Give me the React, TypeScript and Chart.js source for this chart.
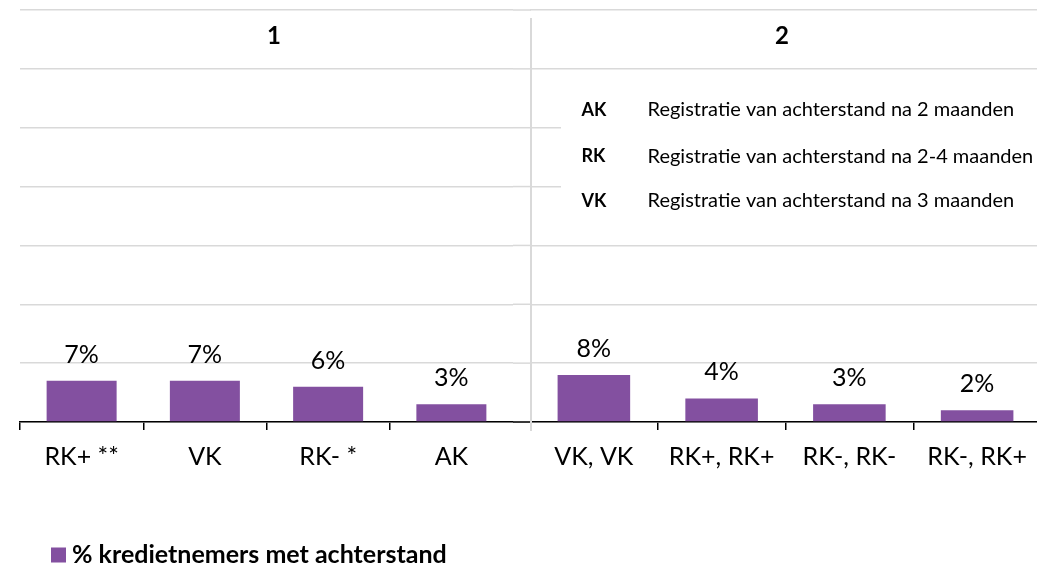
import React, { useEffect, useRef } from 'react';
import { Chart, registerables } from 'chart.js';

Chart.register(...registerables);

// ---- data ----
const groupTitles = ['1', '2'];
const leftCategories = ['RK+ **', 'VK', 'RK- *', 'AK'];
const leftValues = [7, 7, 6, 3];
const rightCategories = ['VK, VK', 'RK+, RK+', 'RK-, RK-', 'RK-, RK+'];
const rightValues = [8, 4, 3, 2];
const seriesLabel = '% kredietnemers met achterstand';
const defAbbr = ['AK', 'RK', 'VK'];
const defText = [
  'Registratie van achterstand na 2 maanden',
  'Registratie van achterstand na 2-4 maanden',
  'Registratie van achterstand na 3 maanden',
];
const yMin = 0;
const yMax = 70;
const yStep = 10;

// ---- style ----
const FONT = 'Lato, "Open Sans", sans-serif';
const BAR = '#8350A0';
const GRID = '#d9d9d9';
const TEXT = '#000000';
const H = 565;
const AXIS_H = 143;

const valueLabels = {
  id: 'valueLabels',
  afterDatasetsDraw(chart: any) {
    const ctx = chart.ctx;
    const ds = chart.data.datasets[0];
    const meta = chart.getDatasetMeta(0);
    ctx.save();
    ctx.font = `25px ${FONT}`;
    ctx.fillStyle = TEXT;
    ctx.textAlign = 'center';
    ctx.textBaseline = 'alphabetic';
    meta.data.forEach((bar: any, i: number) => {
      ctx.fillText(`${ds.data[i]}%`, bar.x, bar.y - 18);
    });
    ctx.restore();
  },
};

const groupTitle = {
  id: 'groupTitle',
  afterDraw(chart: any, _args: any, opts: any) {
    if (!opts || !opts.text) return;
    const ctx = chart.ctx;
    ctx.save();
    ctx.font = `bold 24px ${FONT}`;
    ctx.fillStyle = TEXT;
    ctx.textAlign = 'center';
    ctx.textBaseline = 'middle';
    ctx.fillText(opts.text, opts.x, opts.y);
    ctx.restore();
  },
};

// left chart: extend grid + axis across the gap to the separator, draw series legend
const leftExtras = {
  id: 'leftExtras',
  beforeDatasetsDraw(chart: any) {
    const ctx = chart.ctx;
    const ys = chart.scales.y;
    const area = chart.chartArea;
    ctx.save();
    ctx.strokeStyle = GRID;
    ctx.lineWidth = 1.5;
    ys.ticks.forEach((t: any) => {
      const y = ys.getPixelForValue(t.value);
      ctx.beginPath();
      ctx.moveTo(area.right, y);
      ctx.lineTo(chart.width, y);
      ctx.stroke();
    });
    ctx.strokeStyle = '#000';
    ctx.beginPath();
    ctx.moveTo(area.right, area.bottom);
    ctx.lineTo(chart.width, area.bottom);
    ctx.stroke();
    ctx.restore();
  },
  afterDraw(chart: any) {
    const ctx = chart.ctx;
    const ds = chart.data.datasets[0];
    ctx.save();
    ctx.fillStyle = ds.backgroundColor;
    ctx.fillRect(51, 547.5, 15, 15);
    ctx.font = `bold 25px ${FONT}`;
    ctx.fillStyle = TEXT;
    ctx.textAlign = 'left';
    ctx.textBaseline = 'middle';
    ctx.fillText(ds.label, 72, 554.5);
    ctx.restore();
  },
};

// right chart: separator and definitions box
const rightExtras = {
  id: 'rightExtras',
  beforeDatasetsDraw(chart: any) {
    const ctx = chart.ctx;
    const area = chart.chartArea;
    ctx.save();
    // white box for definitions
    ctx.fillStyle = '#ffffff';
    ctx.fillRect(31, 80, chart.width - 31, 152);
    // separator
    ctx.strokeStyle = GRID;
    ctx.lineWidth = 2;
    ctx.beginPath();
    ctx.moveTo(area.left + 1, 18);
    ctx.lineTo(area.left + 1, 431);
    ctx.stroke();
    // definitions
    const rows = [110, 156.5, 201];
    ctx.textBaseline = 'middle';
    ctx.textAlign = 'left';
    ctx.fillStyle = TEXT;
    defAbbr.forEach((a, i) => {
      ctx.font = `bold 18px ${FONT}`;
      ctx.fillText(a, 51.5, rows[i]);
      ctx.font = `20px ${FONT}`;
      ctx.fillText(defText[i], 117.5, rows[i]);
    });
    ctx.restore();
  },
};

function makeConfig(labels: string[], values: number[], padLeft: number, padRight: number, title: any, plugins: any[]) {
  return {
    type: 'bar' as const,
    data: {
      labels,
      datasets: [
        {
          label: seriesLabel,
          data: values,
          backgroundColor: BAR,
          borderWidth: 0,
          barPercentage: 0.568,
          categoryPercentage: 1,
        },
      ],
    },
    plugins,
    options: {
      responsive: false,
      animation: false as const,
      devicePixelRatio: 1,
      layout: { padding: { left: padLeft, right: padRight, top: 10, bottom: 0 } },
      plugins: {
        legend: { display: false },
        tooltip: { enabled: false },
        groupTitle: title,
      },
      scales: {
        x: {
          grid: {
            display: true,
            drawOnChartArea: false,
            drawTicks: true,
            tickLength: 8,
            offset: true,
            lineWidth: 1.5,
            color: (c: any) => (c.type === 'tick' ? '#000' : 'rgba(0,0,0,0)'),
          },
          border: { display: true, color: '#000', width: 1.5 },
          ticks: {
            font: { family: FONT, size: 25 },
            color: TEXT,
            padding: 12,
            maxRotation: 0,
            autoSkip: false,
          },
          afterFit: (s: any) => {
            s.height = AXIS_H;
          },
        },
        y: {
          min: yMin,
          max: yMax,
          ticks: { display: false, stepSize: yStep },
          grid: { color: GRID, lineWidth: 1.5, drawTicks: false },
          border: { display: false },
          afterFit: (s: any) => {
            s.width = 0;
          },
        },
      },
    },
  };
}

export default function App() {
  const leftRef = useRef<HTMLCanvasElement>(null);
  const rightRef = useRef<HTMLCanvasElement>(null);

  useEffect(() => {
    const left = new Chart(
      leftRef.current as HTMLCanvasElement,
      makeConfig(leftCategories, leftValues, 20, 18, { text: groupTitles[0], x: 274, y: 36 }, [valueLabels, groupTitle, leftExtras]) as any
    );
    const right = new Chart(
      rightRef.current as HTMLCanvasElement,
      makeConfig(rightCategories, rightValues, 0, 0, { text: groupTitles[1], x: 252, y: 36 }, [rightExtras, valueLabels, groupTitle]) as any
    );
    return () => {
      left.destroy();
      right.destroy();
    };
  }, []);

  return (
    <div
      style={{
        position: 'absolute',
        left: 0,
        top: 0,
        width: 1037,
        height: H,
        overflow: 'hidden',
        background: '#fff',
      }}
    >
      <canvas ref={leftRef} width={531} height={H} style={{ position: 'absolute', left: 0, top: 0 }} />
      <canvas ref={rightRef} width={511} height={H} style={{ position: 'absolute', left: 530, top: 0 }} />
    </div>
  );
}
